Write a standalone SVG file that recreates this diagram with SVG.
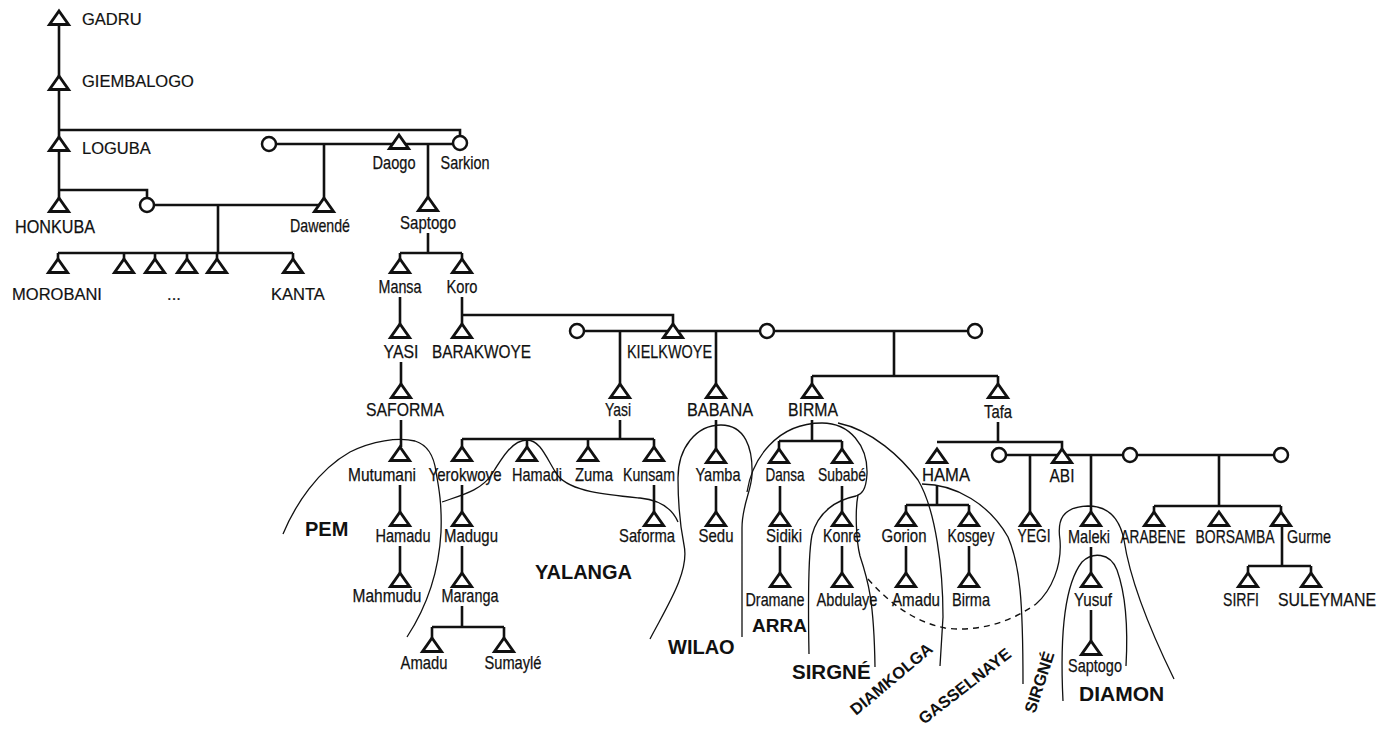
<svg xmlns="http://www.w3.org/2000/svg" xmlns:xlink="http://www.w3.org/1999/xlink" width="1386" height="729" viewBox="0 0 1386 729">
<style>
  .ln{fill:none;stroke:#111;stroke-width:2.6;stroke-linecap:butt}
  .cv{fill:none;stroke:#111;stroke-width:1.3}
  .dash{fill:none;stroke:#111;stroke-width:1.4;stroke-dasharray:6 5}
  .tri{fill:#fff;stroke:#111;stroke-width:2.9;stroke-linejoin:miter}
  .fem{fill:#fff;stroke:#111;stroke-width:2.5}
  text{fill:#111}
  .t{font-family:"Liberation Sans",Arial,sans-serif;font-size:19px;text-anchor:middle;stroke:#111;stroke-width:0.25}
  .s{text-anchor:start}
  .tr{font-family:"Liberation Sans",Arial,sans-serif;font-size:16.5px;stroke:#111;stroke-width:0.2}
  .m{text-anchor:middle}
  .b{font-family:"Liberation Sans",Arial,sans-serif;font-weight:bold;font-size:20px}
  .br{font-family:"Liberation Sans",Arial,sans-serif;font-weight:bold;font-size:16.5px}
</style>
<defs>
  <path id="tri" d="M0,0 L9.5,13.5 L-9.5,13.5 Z"/>
</defs>
<rect width="1386" height="729" fill="#fff"/>

<!-- descent and marriage lines -->
<g id="connectors">
  <path class="ln" d="M59,24 V76 M59,89 V137 M59,130 H460 V136 M59,150 V198 M59,190 H147 V198"/>
  <path class="ln" d="M147,205 H324 M218,205 V253 M58,253 H293 M58,253 V259 M124,253 V259 M155,253 V259 M187,253 V259 M217,253 V259 M293,253 V259"/>
  <path class="ln" d="M269,144 H460 M324,144 V198 M428,144 V197"/>
  <path class="ln" d="M428,233 V253 M400,253 H462 M400,253 V259 M462,253 V259"/>
  <path class="ln" d="M400,297 V324 M462,297 V324 M462,315 H673 V324"/>
  <path class="ln" d="M577,331 H975 M620,331 V384 M716,331 V384 M894,331 V376 M812,376 H998 M812,376 V384 M998,376 V384"/>
  <path class="ln" d="M401,362 V384 M401,420 V447 M620,420 V439 M462,439 H654 M462,439 V447 M527,439 V447 M588,439 V447 M654,439 V447"/>
  <path class="ln" d="M716,420 V449 M812,420 V441 M779,441 H842 M779,441 V449 M842,441 V449 M998,422 V442 M937,442 H1062 V449"/>
  <path class="ln" d="M999,455 H1281 M1030,455 V512 M1091,455 V512 M1219,455 V506 M1154,506 H1281 M1154,506 V512 M1281,506 V512"/>
  <path class="ln" d="M400,485 V512 M462,485 V512 M654,485 V512 M716,486 V512 M780,486 V512 M842,486 V512 M937,486 V505 M906,505 H969 M906,505 V512 M969,505 V512"/>
  <path class="ln" d="M400,546 V573 M462,546 V573 M780,546 V573 M842,546 V573 M906,546 V573 M969,546 V573 M1091,547 V573 M1282,525 V566 M1248,566 H1311 M1248,566 V573 M1311,566 V573"/>
  <path class="ln" d="M462,606 V627 M432,627 H504 M432,627 V638 M504,627 V638 M1091,610 V641"/>
</g>

<!-- lineage boundaries -->
<g id="boundaries">
  <path class="cv" d="M283,534 C295,505 318,470 350,452 C372,441 398,437 415,441 C428,445 434,456 436,472 C439,488 442,505 441,532 C439,570 428,605 407,637"/>
  <path class="cv" d="M442,502 C462,495 482,490 492,474 C503,456 513,440 527,440 C541,440 547,460 558,476 C572,492 608,495 640,498 C660,500 672,508 678,522"/>
  <path class="cv" d="M650,639 C666,608 690,572 684,545 C680,525 678,505 678,478 C678,448 696,425 721,425 C745,425 753,448 752,475 C751,492 742,505 742,528 L742,637"/>
  <path class="cv" d="M747,492 C752,460 776,423 822,423 C850,423 868,446 867,474 C866,490 862,494 856,496 C836,500 818,512 812,535 C808,555 808,600 809,654"/>
  <path class="cv" d="M858,495 C855,510 856,540 860,556 C868,580 874,600 875,667"/>
  <path class="cv" d="M838,423 C872,430 902,458 918,480 C936,510 943,570 943,617 L940,666"/>
  <path class="cv" d="M922,484 C956,484 990,505 1008,537 C1020,565 1023,600 1023,684"/>
  <path class="dash" d="M868,579 C890,604 915,622 945,628 C975,632 1008,624 1036,604"/>
  <path class="cv" d="M1036,604 C1052,590 1062,565 1060,540 C1057,520 1062,507 1088,506 C1110,506 1120,520 1124,540 C1130,580 1150,630 1174,679"/>
  <path class="cv" d="M1063,701 C1060,640 1064,585 1082,562 C1092,552 1110,552 1117,570 C1126,595 1128,630 1126,666"/>
</g>

<!-- circles (women) -->
<g id="f-loguba-w"><circle class="fem" cx="269" cy="144" r="7"/></g>
<g id="f-honkuba-w"><circle class="fem" cx="147" cy="205" r="7"/></g>
<g id="sarkion"><circle class="fem" cx="460" cy="143" r="7"/><text class="t" x="465" y="169" textLength="49" lengthAdjust="spacingAndGlyphs">Sarkion</text></g>
<g id="f-kiel-w1"><circle class="fem" cx="577" cy="331" r="7"/></g>
<g id="f-kiel-w2"><circle class="fem" cx="767" cy="331" r="7"/></g>
<g id="f-kiel-w3"><circle class="fem" cx="975" cy="331" r="7"/></g>
<g id="f-abi-w1"><circle class="fem" cx="999" cy="455" r="7"/></g>
<g id="f-abi-w2"><circle class="fem" cx="1130" cy="455" r="7"/></g>
<g id="f-abi-w3"><circle class="fem" cx="1281" cy="455" r="7"/></g>

<!-- men -->
<g id="gadru"><use href="#tri" class="tri" x="59" y="11"/><text class="tr" x="82" y="25">GADRU</text></g>
<g id="giembalogo"><use href="#tri" class="tri" x="59" y="76"/><text class="tr" x="82" y="87">GIEMBALOGO</text></g>
<g id="loguba"><use href="#tri" class="tri" x="59" y="137"/><text class="tr" x="82" y="154">LOGUBA</text></g>
<g id="honkuba"><use href="#tri" class="tri" x="59" y="198"/><text class="t" x="55" y="233" textLength="80" lengthAdjust="spacingAndGlyphs">HONKUBA</text></g>
<g id="dawende"><use href="#tri" class="tri" x="324" y="198"/><text class="t" x="320" y="232" textLength="60" lengthAdjust="spacingAndGlyphs">Dawendé</text></g>
<g id="daogo"><use href="#tri" class="tri" x="399" y="135"/><text class="t" x="394" y="169" textLength="43" lengthAdjust="spacingAndGlyphs">Daogo</text></g>
<g id="saptogo"><use href="#tri" class="tri" x="428" y="197"/><text class="t" x="428" y="229" textLength="56" lengthAdjust="spacingAndGlyphs">Saptogo</text></g>

<g id="morobani"><use href="#tri" class="tri" x="58" y="259"/><text class="tr m" x="57" y="300">MOROBANI</text></g>
<g id="honkuba-son2"><use href="#tri" class="tri" x="124" y="259"/></g>
<g id="honkuba-son3"><use href="#tri" class="tri" x="155" y="259"/><text class="tr m" x="174" y="300">...</text></g>
<g id="honkuba-son4"><use href="#tri" class="tri" x="187" y="259"/></g>
<g id="honkuba-son5"><use href="#tri" class="tri" x="217" y="259"/></g>
<g id="kanta"><use href="#tri" class="tri" x="293" y="259"/><text class="tr m" x="298" y="300">KANTA</text></g>

<g id="mansa"><use href="#tri" class="tri" x="400" y="259"/><text class="t" x="400" y="293" textLength="43" lengthAdjust="spacingAndGlyphs">Mansa</text></g>
<g id="koro"><use href="#tri" class="tri" x="462" y="259"/><text class="t" x="462" y="293" textLength="31" lengthAdjust="spacingAndGlyphs">Koro</text></g>
<g id="yasi-1"><use href="#tri" class="tri" x="400" y="324"/><text class="t" x="401" y="358" textLength="35" lengthAdjust="spacingAndGlyphs">YASI</text></g>
<g id="barakwoye"><use href="#tri" class="tri" x="462" y="324"/><text class="t s" x="432" y="358" textLength="99" lengthAdjust="spacingAndGlyphs">BARAKWOYE</text></g>
<g id="kielkwoye"><use href="#tri" class="tri" x="673" y="324"/><text class="t s" x="627" y="358" textLength="85" lengthAdjust="spacingAndGlyphs">KIELKWOYE</text></g>

<g id="saforma-1"><use href="#tri" class="tri" x="401" y="384"/><text class="t" x="405" y="416" textLength="78" lengthAdjust="spacingAndGlyphs">SAFORMA</text></g>
<g id="yasi-2"><use href="#tri" class="tri" x="620" y="384"/><text class="t" x="618" y="416" textLength="26" lengthAdjust="spacingAndGlyphs">Yasi</text></g>
<g id="babana"><use href="#tri" class="tri" x="716" y="384"/><text class="t" x="720" y="416" textLength="66" lengthAdjust="spacingAndGlyphs">BABANA</text></g>
<g id="birma-1"><use href="#tri" class="tri" x="812" y="384"/><text class="t" x="813" y="416" textLength="50" lengthAdjust="spacingAndGlyphs">BIRMA</text></g>
<g id="tafa"><use href="#tri" class="tri" x="998" y="384"/><text class="t" x="998" y="418" textLength="28" lengthAdjust="spacingAndGlyphs">Tafa</text></g>

<g id="mutumani"><use href="#tri" class="tri" x="400" y="447"/><text class="t" x="382" y="481" textLength="68" lengthAdjust="spacingAndGlyphs">Mutumani</text></g>
<g id="yerokwoye"><use href="#tri" class="tri" x="462" y="447"/><text class="t" x="465" y="481" textLength="73" lengthAdjust="spacingAndGlyphs">Yerokwoye</text></g>
<g id="hamadi"><use href="#tri" class="tri" x="527" y="447"/><text class="t" x="537" y="481" textLength="50" lengthAdjust="spacingAndGlyphs">Hamadi</text></g>
<g id="zuma"><use href="#tri" class="tri" x="588" y="447"/><text class="t" x="594" y="481" textLength="38" lengthAdjust="spacingAndGlyphs">Zuma</text></g>
<g id="kunsam"><use href="#tri" class="tri" x="654" y="447"/><text class="t" x="649" y="481" textLength="52" lengthAdjust="spacingAndGlyphs">Kunsam</text></g>
<g id="yamba"><use href="#tri" class="tri" x="716" y="449"/><text class="t" x="718" y="481" textLength="45" lengthAdjust="spacingAndGlyphs">Yamba</text></g>
<g id="dansa"><use href="#tri" class="tri" x="779" y="449"/><text class="t" x="785" y="481" textLength="39" lengthAdjust="spacingAndGlyphs">Dansa</text></g>
<g id="subabe"><use href="#tri" class="tri" x="842" y="449"/><text class="t" x="842" y="481" textLength="48" lengthAdjust="spacingAndGlyphs">Subabé</text></g>
<g id="hama"><use href="#tri" class="tri" x="937" y="449"/><text class="t" x="946" y="481" textLength="48" lengthAdjust="spacingAndGlyphs">HAMA</text></g>
<g id="abi"><use href="#tri" class="tri" x="1062" y="449"/><text class="t" x="1062" y="482" textLength="25" lengthAdjust="spacingAndGlyphs">ABI</text></g>

<g id="hamadu"><use href="#tri" class="tri" x="400" y="512"/><text class="t" x="403" y="542" textLength="55" lengthAdjust="spacingAndGlyphs">Hamadu</text></g>
<g id="madugu"><use href="#tri" class="tri" x="462" y="512"/><text class="t" x="471" y="542" textLength="54" lengthAdjust="spacingAndGlyphs">Madugu</text></g>
<g id="saforma-2"><use href="#tri" class="tri" x="654" y="512"/><text class="t" x="647" y="542" textLength="56" lengthAdjust="spacingAndGlyphs">Saforma</text></g>
<g id="sedu"><use href="#tri" class="tri" x="716" y="512"/><text class="t" x="716" y="542" textLength="35" lengthAdjust="spacingAndGlyphs">Sedu</text></g>
<g id="sidiki"><use href="#tri" class="tri" x="780" y="512"/><text class="t" x="784" y="542" textLength="36" lengthAdjust="spacingAndGlyphs">Sidiki</text></g>
<g id="konre"><use href="#tri" class="tri" x="842" y="512"/><text class="t" x="842" y="542" textLength="38" lengthAdjust="spacingAndGlyphs">Konré</text></g>
<g id="gorion"><use href="#tri" class="tri" x="906" y="512"/><text class="t" x="904" y="542" textLength="45" lengthAdjust="spacingAndGlyphs">Gorion</text></g>
<g id="kosgey"><use href="#tri" class="tri" x="969" y="512"/><text class="t" x="971" y="542" textLength="47" lengthAdjust="spacingAndGlyphs">Kosgey</text></g>
<g id="yegi"><use href="#tri" class="tri" x="1030" y="512"/><text class="t" x="1034" y="542" textLength="33" lengthAdjust="spacingAndGlyphs">YEGI</text></g>
<g id="maleki"><use href="#tri" class="tri" x="1091" y="512"/><text class="t" x="1089" y="543" textLength="42" lengthAdjust="spacingAndGlyphs">Maleki</text></g>
<g id="arabene"><use href="#tri" class="tri" x="1154" y="512"/><text class="t" x="1153" y="543" textLength="65" lengthAdjust="spacingAndGlyphs">ARABENE</text></g>
<g id="borsamba"><use href="#tri" class="tri" x="1219" y="512"/><text class="t" x="1235" y="543" textLength="79" lengthAdjust="spacingAndGlyphs">BORSAMBA</text></g>
<g id="gurme"><use href="#tri" class="tri" x="1281" y="512"/><text class="t s" x="1287" y="543" textLength="44" lengthAdjust="spacingAndGlyphs">Gurme</text></g>

<g id="mahmudu"><use href="#tri" class="tri" x="400" y="573"/><text class="t" x="387" y="602" textLength="69" lengthAdjust="spacingAndGlyphs">Mahmudu</text></g>
<g id="maranga"><use href="#tri" class="tri" x="462" y="573"/><text class="t" x="470" y="602" textLength="57" lengthAdjust="spacingAndGlyphs">Maranga</text></g>
<g id="dramane"><use href="#tri" class="tri" x="780" y="573"/><text class="t" x="775" y="606" textLength="59" lengthAdjust="spacingAndGlyphs">Dramane</text></g>
<g id="abdulaye"><use href="#tri" class="tri" x="842" y="573"/><text class="t" x="847" y="606" textLength="61" lengthAdjust="spacingAndGlyphs">Abdulaye</text></g>
<g id="amadu-2"><use href="#tri" class="tri" x="906" y="573"/><text class="t" x="916" y="606" textLength="48" lengthAdjust="spacingAndGlyphs">Amadu</text></g>
<g id="birma-2"><use href="#tri" class="tri" x="969" y="573"/><text class="t" x="971" y="606" textLength="38" lengthAdjust="spacingAndGlyphs">Birma</text></g>
<g id="yusuf"><use href="#tri" class="tri" x="1091" y="573"/><text class="t" x="1093" y="606" textLength="38" lengthAdjust="spacingAndGlyphs">Yusuf</text></g>
<g id="sirfi"><use href="#tri" class="tri" x="1248" y="573"/><text class="t" x="1241" y="606" textLength="36" lengthAdjust="spacingAndGlyphs">SIRFI</text></g>
<g id="suleymane"><use href="#tri" class="tri" x="1311" y="573"/><text class="t" x="1327" y="606" textLength="98" lengthAdjust="spacingAndGlyphs">SULEYMANE</text></g>

<g id="amadu-1"><use href="#tri" class="tri" x="432" y="638"/><text class="t" x="424" y="669" textLength="47" lengthAdjust="spacingAndGlyphs">Amadu</text></g>
<g id="sumayle"><use href="#tri" class="tri" x="504" y="638"/><text class="t" x="513" y="669" textLength="57" lengthAdjust="spacingAndGlyphs">Sumaylé</text></g>
<g id="saptogo-2"><use href="#tri" class="tri" x="1091" y="641"/><text class="t" x="1095" y="672" textLength="54" lengthAdjust="spacingAndGlyphs">Saptogo</text></g>

<!-- lineage segment names -->
<g id="seg-pem"><text class="b" x="305" y="536">PEM</text></g>
<g id="seg-yalanga"><text class="b" x="535" y="579">YALANGA</text></g>
<g id="seg-wilao"><text class="b" x="668" y="654">WILAO</text></g>
<g id="seg-arra"><text class="b" x="752" y="632" style="font-size:19px">ARRA</text></g>
<g id="seg-sirgne-1"><text class="b" x="792" y="679" style="font-size:20.5px">SIRGNÉ</text></g>
<g id="seg-diamkolga"><text class="br" transform="translate(856,716) rotate(-40)">DIAMKOLGA</text></g>
<g id="seg-gasselnaye"><text class="br" transform="translate(924,725) rotate(-38)">GASSELNAYE</text></g>
<g id="seg-sirgne-2"><text class="br" transform="translate(1035,714) rotate(-72)">SIRGNÉ</text></g>
<g id="seg-diamon"><text class="b" x="1079" y="701" style="font-size:21px">DIAMON</text></g>
</svg>
